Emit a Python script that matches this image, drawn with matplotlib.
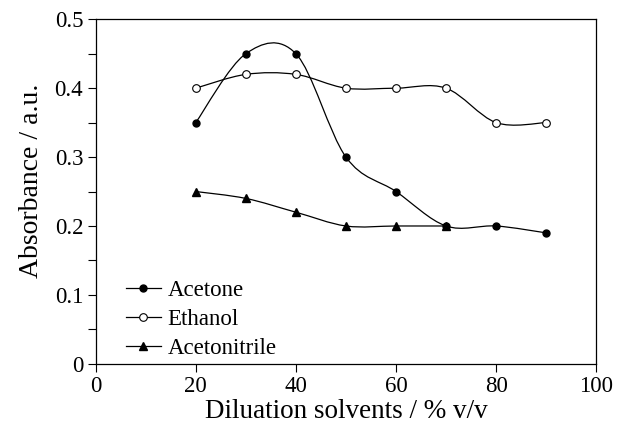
import numpy as np
import matplotlib
matplotlib.use("Agg")
import matplotlib.pyplot as plt
from matplotlib.path import Path
from matplotlib.patches import PathPatch
from matplotlib.lines import Line2D

plt.rcParams['font.family'] = ['Liberation Serif', 'DejaVu Serif']

x_acetone = [20, 30, 40, 50, 60, 70, 80, 90]
acetone = [0.35, 0.45, 0.45, 0.30, 0.25, 0.20, 0.20, 0.19]
x_ethanol = [20, 30, 40, 50, 60, 70, 80, 90]
ethanol = [0.40, 0.42, 0.42, 0.40, 0.40, 0.40, 0.35, 0.35]
x_acn = [20, 30, 40, 50, 60, 70]
acetonitrile = [0.25, 0.24, 0.22, 0.20, 0.20, 0.20]
labels = ["Acetone", "Ethanol", "Acetonitrile"]


def smooth_path(xs, ys):
    pts = np.column_stack([xs, ys]).astype(float)
    n = len(pts)
    verts = [pts[0]]
    codes = [Path.MOVETO]
    for i in range(n - 1):
        p0 = pts[i - 1] if i > 0 else pts[i]
        p1 = pts[i]
        p2 = pts[i + 1]
        p3 = pts[i + 2] if i + 2 < n else pts[i + 1]
        c1 = p1 + (p2 - p0) / 6.0
        c2 = p2 - (p3 - p1) / 6.0
        verts += [c1, c2, p2]
        codes += [Path.CURVE4] * 3
    return Path(verts, codes)


fig = plt.figure(figsize=(6.25, 4.28), dpi=100)
ax = fig.add_axes([0.153, 0.15, 0.801, 0.805])

series = [
    (x_acetone, acetone, dict(marker='o', mfc='black', mec='black', ms=5)),
    (x_ethanol, ethanol, dict(marker='o', mfc='white', mec='black', ms=5.5, mew=0.8)),
    (x_acn, acetonitrile, dict(marker='^', mfc='black', mec='black', ms=6)),
]
handles = []
for (xs, ys, mk), lab in zip(series, labels):
    ax.add_patch(PathPatch(smooth_path(xs, ys), fill=False, edgecolor='black', lw=0.9))
    ax.plot(xs, ys, linestyle='none', zorder=3, **mk)
    handles.append(Line2D([], [], color='black', lw=0.9, **mk))

ax.set_xlim(0, 100)
ax.set_ylim(0, 0.5)
ax.set_xticks([0, 20, 40, 60, 80, 100])
ax.set_yticks([0, 0.1, 0.2, 0.3, 0.4, 0.5])
ax.set_yticklabels(['0', '0.1', '0.2', '0.3', '0.4', '0.5'])
ax.set_yticks(np.arange(0.05, 0.5, 0.1), minor=True)
ax.tick_params(axis='both', which='major', direction='out', length=6, width=0.8,
               labelsize=16.5, pad=3)
ax.tick_params(axis='y', which='minor', direction='out', length=6, width=0.8)
for s in ax.spines.values():
    s.set_linewidth(0.9)

ax.set_xlabel('Diluation solvents / % v/v', fontsize=19.5, labelpad=1)
ax.set_ylabel('Absorbance / a.u.', fontsize=20)
ax.yaxis.set_label_coords(-0.103, 0.53)

ax.legend(handles, labels, loc='lower left', frameon=False, fontsize=16.5,
          handlelength=1.5, handletextpad=0.3, labelspacing=0.35,
          bbox_to_anchor=(0.02, -0.045))

fig.savefig('out.png', dpi=100)
